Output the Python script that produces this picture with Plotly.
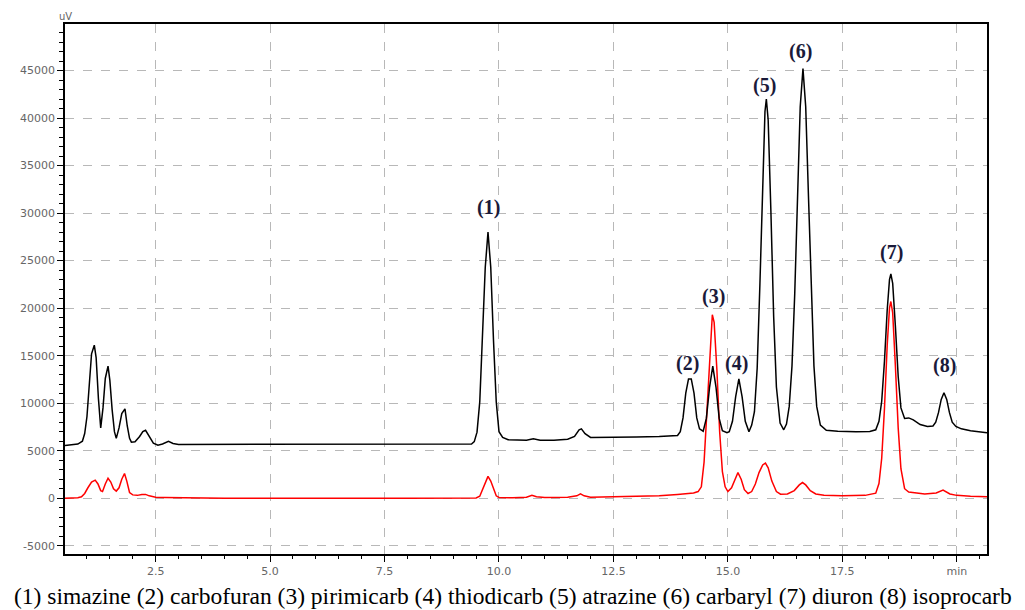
import plotly.graph_objects as go

# ---------------- data ----------------
t_black = [0.52, 0.70, 0.80, 0.90, 0.95, 1.00, 1.05, 1.10, 1.16, 1.20, 1.25, 1.30, 1.35, 1.40, 1.46, 1.50,
           1.55, 1.60, 1.64, 1.70, 1.76, 1.83, 1.88, 1.93, 1.97, 2.05, 2.15, 2.22, 2.28, 2.35, 2.45, 2.55,
           2.65, 2.78, 2.88, 3.0, 4.0, 5.0, 5.5, 6.0, 7.0, 8.0, 9.0,
           9.40, 9.46, 9.52, 9.58, 9.64, 9.70, 9.76, 9.82, 9.88, 9.94, 10.00, 10.08, 10.20,
           10.40, 10.60, 10.75, 10.90, 11.20, 11.50, 11.65, 11.75, 11.80, 11.88, 12.00, 12.50, 13.00, 13.50,
           13.80, 13.90, 13.96, 14.02, 14.08, 14.14, 14.20, 14.26, 14.32, 14.38, 14.46,
           14.53, 14.60, 14.67, 14.74, 14.81, 14.88, 14.98,
           15.03, 15.10, 15.17, 15.24, 15.31, 15.38, 15.46,
           15.52, 15.58, 15.64, 15.70, 15.76, 15.81, 15.84, 15.88, 15.94, 16.00, 16.06, 16.14,
           16.22, 16.28, 16.34, 16.40, 16.46, 16.52, 16.58, 16.64, 16.70, 16.76, 16.82, 16.88, 16.94,
           17.02, 17.15, 17.40, 17.80, 18.10,
           18.23, 18.30, 18.36, 18.42, 18.48, 18.53, 18.56, 18.60, 18.66, 18.72, 18.78, 18.86, 18.95,
           19.05, 19.20, 19.36, 19.48, 19.54, 19.60, 19.66, 19.72, 19.78, 19.84, 19.90, 19.98,
           20.10, 20.30, 20.50, 20.66]
v_black = [5560, 5600, 5700, 6000, 6800, 8600, 12300, 15200, 16100, 14800, 10500, 7400, 9500, 12600, 13900, 12400,
           9300, 7000, 6300, 7400, 8900, 9400, 7600, 6300, 5900, 5950, 6500, 7000, 7150, 6600, 5800, 5580,
           5700, 5980, 5760, 5660, 5660, 5680, 5720, 5660, 5660, 5660, 5660,
           5700, 5950, 6950, 10150, 16600, 24300, 28000, 24300, 16600, 10150, 7000, 6400, 6150,
           6100, 6100, 6250, 6100, 6100, 6200, 6500, 7200, 7300, 6800, 6400, 6400, 6450, 6500,
           6550, 6600, 7000, 8450, 11050, 12550, 12550, 11050, 8450, 7300, 7050,
           8400, 11700, 13900, 11700, 8400, 7100, 6900,
           7000, 8100, 10700, 12550, 10700, 8100, 7000,
           7700, 9100, 13700, 22600, 33900, 40700, 42000, 39800, 30100, 19100, 11700, 7900,
           7200, 7800, 9660, 13900, 21500, 31800, 41200, 45200, 41200, 31800, 21500, 13900, 9660,
           7700, 7150, 7050, 7000, 7020,
           7200, 8100, 10200, 14400, 19800, 23000, 23600, 22600, 18000, 12800, 9500, 8400, 8450,
           8250, 7750, 7550, 7600, 8000, 9000, 10400, 11100, 10400, 9000, 8000, 7550,
           7300, 7100, 7000, 6900]

t_red = [0.52, 0.80, 0.88, 0.95, 1.02, 1.10, 1.18, 1.24, 1.30, 1.34, 1.40, 1.46, 1.52, 1.58, 1.64, 1.70,
         1.76, 1.82, 1.87, 1.93, 2.00, 2.10, 2.20, 2.28, 2.36, 2.50, 2.70, 3.0, 3.5, 4.0, 5.0, 6.0, 7.0,
         8.0, 9.0, 9.50, 9.58, 9.64, 9.70, 9.76, 9.82, 9.88, 9.94, 10.00, 10.30, 10.60, 10.72, 10.82,
         11.00, 11.50, 11.70, 11.78, 11.86, 12.00, 12.50, 13.00, 13.50, 13.90, 14.10, 14.25, 14.35,
         14.42, 14.48, 14.54, 14.60, 14.66, 14.70, 14.76, 14.82, 14.88, 14.94, 15.00,
         15.08, 15.15, 15.22, 15.29, 15.36, 15.44, 15.52, 15.60, 15.68, 15.76, 15.82, 15.88, 15.96,
         16.06, 16.15, 16.30, 16.45, 16.56, 16.63, 16.70, 16.80, 16.92, 17.10, 17.50, 18.00,
         18.23, 18.30, 18.36, 18.42, 18.48, 18.53, 18.56, 18.60, 18.66, 18.72, 18.78, 18.86, 18.95,
         19.10, 19.30, 19.55, 19.70, 19.85, 20.00, 20.30, 20.66]
v_red = [0, 50, 150, 500, 1100, 1700, 1900, 1500, 800, 700, 1500, 2100, 1700, 1000, 750, 1100,
         2000, 2600, 1800, 600, 350, 300, 400, 400, 250, 100, 80, 50, 40, 0, 0, 30, 0,
         0, 20, 30, 200, 900, 1800, 2300, 1800, 900, 250, 80, 50, 100, 300, 150,
         80, 100, 250, 450, 250, 100, 150, 150, 250, 400, 500, 550, 700,
         1200, 3800, 9000, 15500, 19300, 18500, 13500, 7000, 2800, 1200, 700,
         1100, 2000, 2700, 2000, 900, 500, 700, 1500, 2700, 3500, 3700, 3200, 1800,
         700, 420, 450, 800, 1400, 1650, 1400, 800, 450, 300, 250, 300,
         530, 1550, 4200, 9400, 16100, 20000, 20700, 19500, 13800, 7400, 3100, 1000, 650,
         550, 450, 550, 850, 450, 300, 200, 150]

# peak labels: text, which trace, retention time of the peak
peak_text = ["(1)", "(2)", "(3)", "(4)", "(5)", "(6)", "(7)", "(8)"]
peak_trace = ["black", "black", "red", "black", "black", "black", "black", "black"]
peak_time = [9.76, 14.20, 14.66, 15.24, 15.84, 16.64, 18.56, 19.72]

x_tickvals = [2.5, 5.0, 7.5, 10.0, 12.5, 15.0, 17.5, 20.0]
x_ticktext = ["2.5", "5.0", "7.5", "10.0", "12.5", "15.0", "17.5", "min"]
y_tickvals = [-5000, 0, 5000, 10000, 15000, 20000, 25000, 30000, 35000, 40000, 45000]
y_ticktext = ["-5000", "0", "5000", "10000", "15000", "20000", "25000", "30000", "35000", "40000", "45000"]

caption = ("(1) simazine (2) carbofuran (3) pirimicarb (4) thiodicarb (5) atrazine "
           "(6) carbaryl (7) diuron (8) isoprocarb")

# ---------------- figure ----------------
fig = go.Figure()
fig.add_trace(go.Scatter(x=t_red, y=v_red, mode="lines",
                         line=dict(color="#ff0000", width=1.5), showlegend=False))
fig.add_trace(go.Scatter(x=t_black, y=v_black, mode="lines",
                         line=dict(color="#000000", width=1.5), showlegend=False))

label_shift = [25, 15, 18, 15, 14, 17, 21, 27]
label_xshift = [0, -4, 1, -2, -2, -2, 1, 1]
for txt, tr, tm, ys, xs in zip(peak_text, peak_trace, peak_time, label_shift, label_xshift):
    xs_arr, vs_arr = (t_black, v_black) if tr == "black" else (t_red, v_red)
    i = min(range(len(xs_arr)), key=lambda k: abs(xs_arr[k] - tm))
    fig.add_annotation(x=xs_arr[i], y=vs_arr[i], text="<b>" + txt + "</b>", showarrow=False,
                       xref="x", yref="y", yshift=ys, xshift=xs, yanchor="middle",
                       font=dict(family="Liberation Serif", size=20, color="#1a1a3a"))

fig.add_annotation(text="uV", xref="paper", yref="paper", x=0, y=1, xshift=0, yshift=8,
                   xanchor="center", yanchor="middle", showarrow=False,
                   font=dict(family="DejaVu Sans", size=10, color="#666666"))

fig.add_annotation(text=caption, xref="paper", yref="paper", x=0.486, y=0, yshift=-42,
                   xanchor="center", yanchor="middle", showarrow=False,
                   font=dict(family="Liberation Serif", size=23.5, color="#000000"))

axis_common = dict(showline=True, linecolor="black", linewidth=1.5, mirror=True,
                   showgrid=True, gridcolor="#b8b8b8", griddash="dash", gridwidth=1,
                   ticks="outside", tickcolor="black", zeroline=False,
                   tickfont=dict(family="DejaVu Sans", size=11, color="#666666"))

fig.update_xaxes(range=[0.52, 20.66], tickmode="array", tickvals=x_tickvals, ticktext=x_ticktext,
                 ticklen=6, minor=dict(tickmode="linear", tick0=0, dtick=0.5, ticks="outside",
                                       ticklen=3, tickcolor="black", showgrid=False),
                 **axis_common)
fig.update_yaxes(range=[-5870, 49900], tickmode="array", tickvals=y_tickvals, ticktext=y_ticktext,
                 ticklen=6, minor=dict(tickmode="linear", tick0=0, dtick=1000, ticks="outside",
                                       ticklen=4, tickcolor="black", showgrid=False),
                 **axis_common)

# the page body adds an 8 px margin, so the figure is sized/offset to compensate
fig.update_layout(width=1017, height=602, margin=dict(l=54, r=38, t=16, b=56),
                  paper_bgcolor="white", plot_bgcolor="white")

fig.write_html("out.html")
